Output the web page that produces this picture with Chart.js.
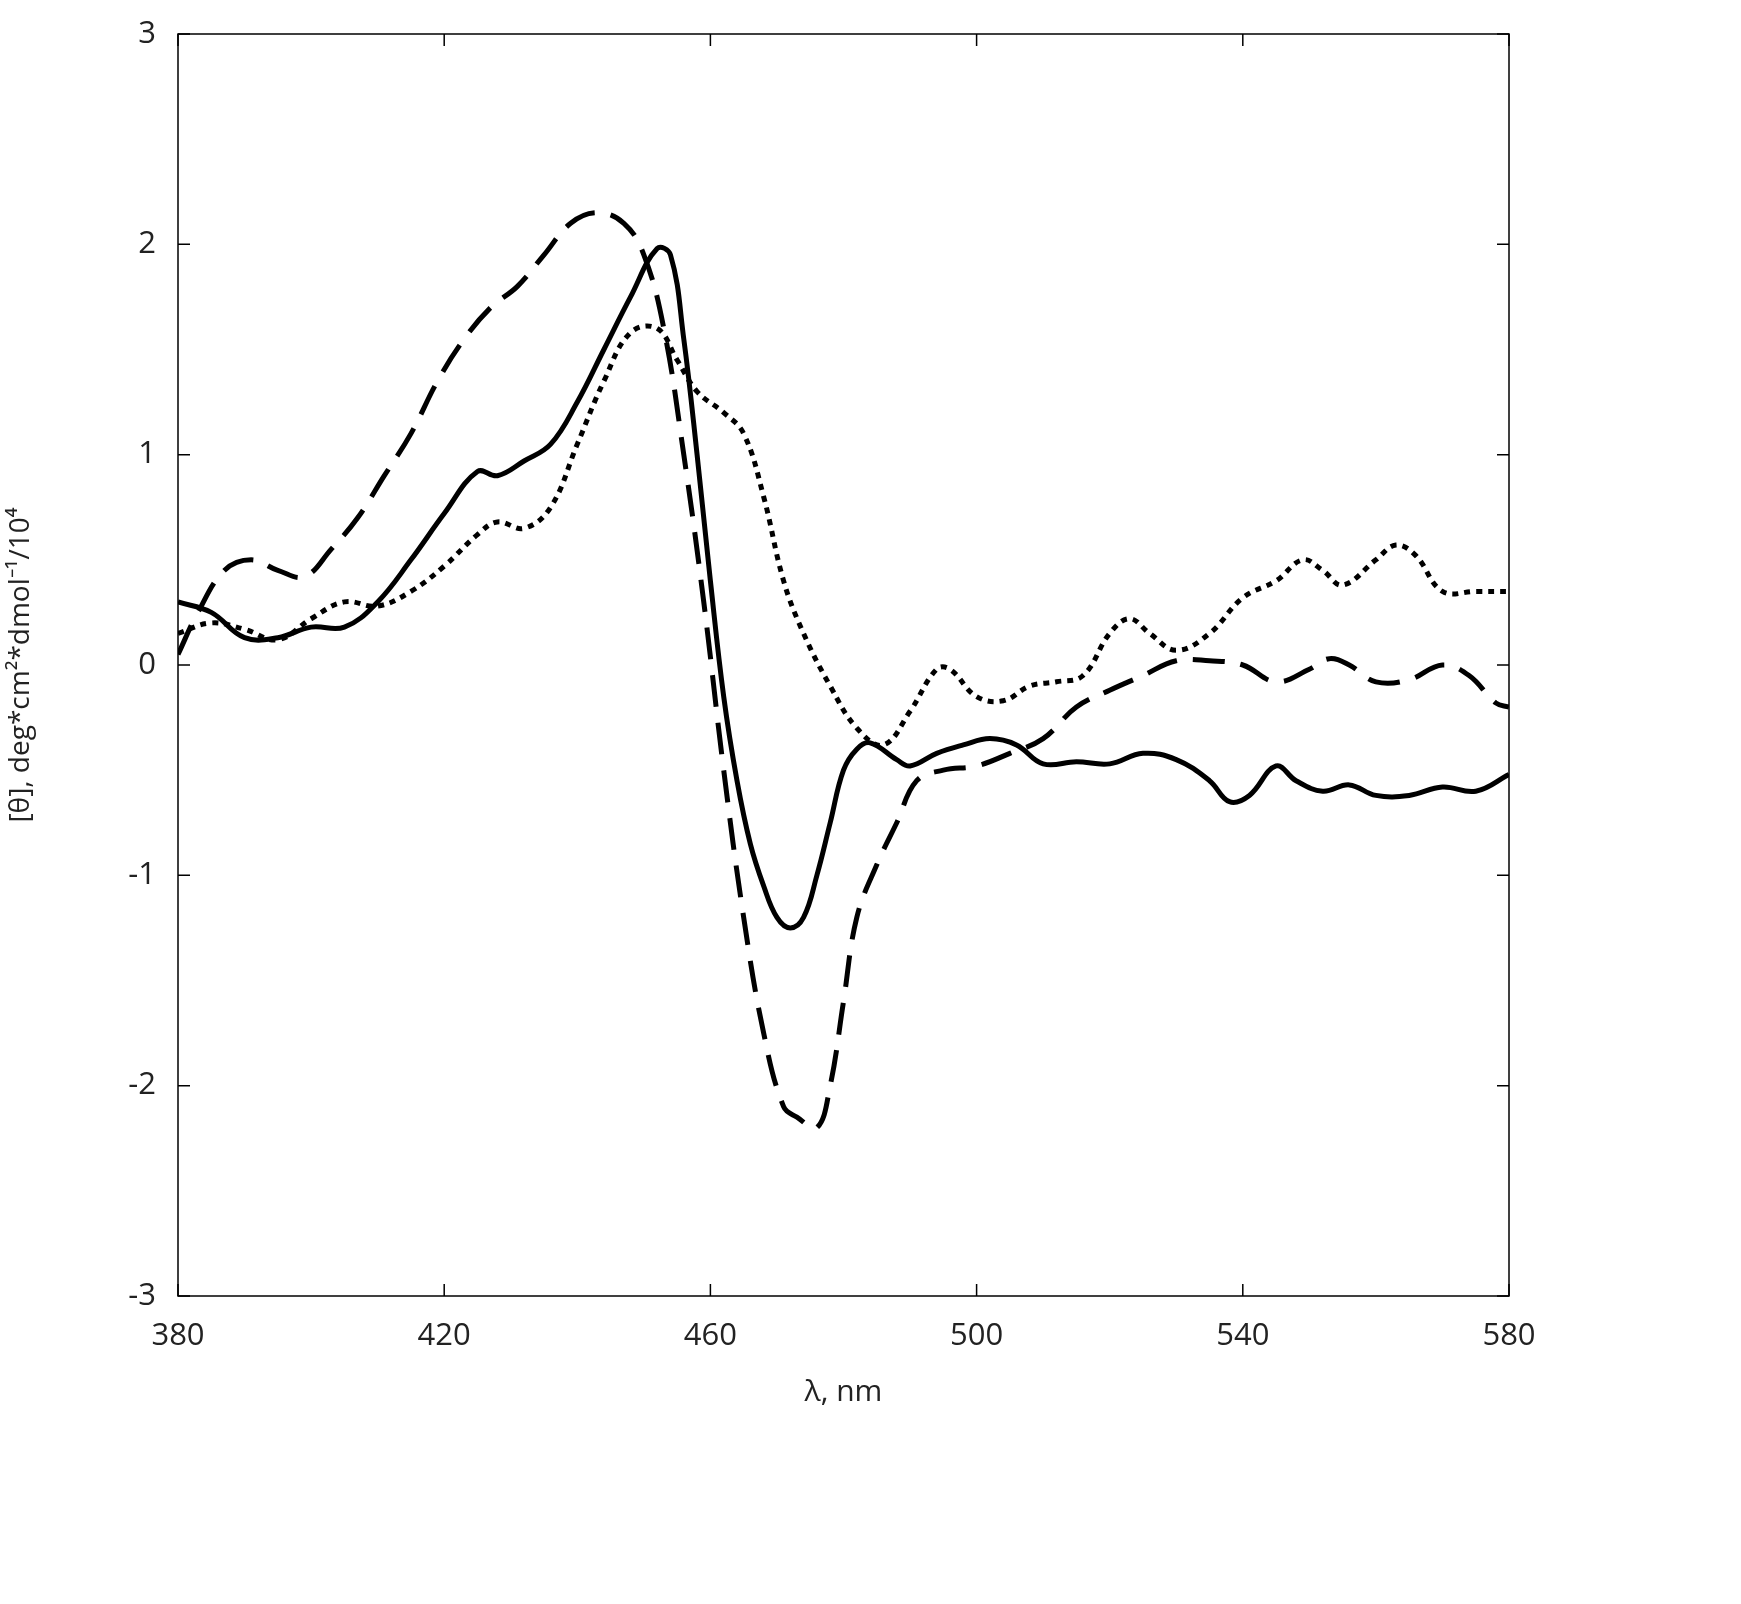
<!DOCTYPE html>
<html>
<head>
<meta charset="utf-8">
<script src="https://cdn.jsdelivr.net/npm/chart.js@4.4.0/dist/chart.umd.min.js"></script>
<style>
  html, body { margin: 0; background: #fff; }
  #wrap { width: 1741px; height: 1604px; }
</style>
</head>
<body>
<div id="wrap"><canvas id="cdChart"></canvas></div>
<script>
// Wavelengths (nm) and ellipticity values for each curve
const solidX = [380,385,390,395,400,405,410,415,420,425,428,432,436,440,444,448,452,454,456,458,460,462,464,466,468,470,472,474,476,478,480,482,484,488,490,494,498,502,506,510,515,520,525,530,535,538,541,545,548,552,556,560,565,570,575,580];
const solidY = [0.30,0.25,0.13,0.13,0.18,0.18,0.30,0.50,0.72,0.92,0.90,0.97,1.05,1.25,1.50,1.75,1.98,1.95,1.55,1.00,0.40,-0.15,-0.55,-0.85,-1.05,-1.20,-1.25,-1.20,-1.00,-0.75,-0.50,-0.40,-0.37,-0.45,-0.48,-0.42,-0.38,-0.35,-0.38,-0.47,-0.46,-0.47,-0.42,-0.45,-0.55,-0.65,-0.62,-0.48,-0.55,-0.60,-0.57,-0.62,-0.62,-0.58,-0.60,-0.52];

const dashX = [380,383,387,391,395,399,403,407,411,415,419,423,427,431,435,439,443,447,450,453,456,459,462,465,468,471,473,476,478,480,482,485,488,491,495,500,505,510,515,520,525,530,535,540,545,550,553,556,560,565,570,574,578,580];
const dashY = [0.05,0.25,0.45,0.50,0.45,0.42,0.55,0.70,0.90,1.10,1.35,1.55,1.70,1.80,1.95,2.10,2.15,2.10,1.95,1.60,1.00,0.30,-0.50,-1.20,-1.75,-2.10,-2.15,-2.20,-2.00,-1.60,-1.20,-0.95,-0.75,-0.55,-0.50,-0.48,-0.42,-0.35,-0.20,-0.12,-0.05,0.02,0.02,0.00,-0.08,-0.02,0.03,0.00,-0.08,-0.07,0.00,-0.05,-0.18,-0.20];

const dotX = [380,385,390,395,400,405,410,415,420,425,428,432,436,440,444,448,452,455,458,462,465,468,471,474,478,482,486,490,494,496,500,504,508,512,516,520,523,526,530,535,540,545,549,552,555,560,563,566,570,575,580];
const dotY = [0.15,0.20,0.17,0.12,0.22,0.30,0.28,0.35,0.47,0.62,0.68,0.65,0.75,1.05,1.35,1.58,1.60,1.45,1.30,1.20,1.10,0.80,0.40,0.15,-0.10,-0.30,-0.38,-0.22,-0.02,-0.02,-0.15,-0.17,-0.10,-0.08,-0.05,0.15,0.22,0.15,0.07,0.15,0.32,0.40,0.50,0.45,0.38,0.50,0.57,0.52,0.35,0.35,0.35];

const xTicks = [380,420,460,500,540,580];
const yTicks = [-3,-2,-1,0,1,2,3];

function pts(xs, ys) { return xs.map((x, i) => ({ x: x, y: ys[i] })); }

// draws the frame and inward tick marks on all four sides
const frameTicks = {
  id: 'frameTicks',
  afterDraw(chart) {
    const { ctx, chartArea: a, scales } = chart;
    ctx.save();
    ctx.strokeStyle = '#000';
    ctx.lineWidth = 1.5;
    ctx.strokeRect(a.left, a.top, a.right - a.left, a.bottom - a.top);
    const L = 12;
    ctx.beginPath();
    xTicks.forEach(v => {
      const p = scales.x.getPixelForValue(v);
      ctx.moveTo(p, a.bottom); ctx.lineTo(p, a.bottom - L);
      ctx.moveTo(p, a.top); ctx.lineTo(p, a.top + L);
    });
    yTicks.forEach(v => {
      const p = scales.y.getPixelForValue(v);
      ctx.moveTo(a.left, p); ctx.lineTo(a.left + L, p);
      ctx.moveTo(a.right, p); ctx.lineTo(a.right - L, p);
    });
    ctx.stroke();
    ctx.restore();
  }
};

const base = { borderColor: '#000', borderWidth: 5, pointRadius: 0, tension: 0.4, fill: false };

new Chart(document.getElementById('cdChart').getContext('2d'), {
  type: 'line',
  data: {
    datasets: [
      Object.assign({ label: 'solid', data: pts(solidX, solidY) }, base),
      Object.assign({ label: 'dashed', data: pts(dashX, dashY), borderDash: [32, 16] }, base),
      Object.assign({ label: 'dotted', data: pts(dotX, dotY), borderDash: [6, 6] }, base)
    ]
  },
  options: {
    responsive: true,
    maintainAspectRatio: false,
    animation: false,
    layout: { padding: { top: 34, right: 232, bottom: 190, left: 0 } },
    plugins: { legend: { display: false }, tooltip: { enabled: false } },
    scales: {
      x: {
        type: 'linear', min: 380, max: 580,
        afterBuildTicks: s => { s.ticks = xTicks.map(v => ({ value: v })); },
        afterFit: s => { s.height = 118; },
        grid: { display: false },
        border: { display: false },
        ticks: { color: '#222', font: { family: 'Open Sans', size: 31 }, padding: 14 },
        title: { display: true, text: 'λ, nm', color: '#222', font: { family: 'Open Sans', size: 30 } }
      },
      y: {
        min: -3, max: 3,
        afterBuildTicks: s => { s.ticks = yTicks.map(v => ({ value: v })); },
        afterFit: s => { s.width = 178; },
        grid: { display: false },
        border: { display: false },
        ticks: { color: '#222', font: { family: 'Open Sans', size: 31 }, padding: 14 },
        title: { display: true, text: '[θ], deg*cm²*dmol⁻¹/10⁴', color: '#222', font: { family: 'Open Sans', size: 28 }, padding: { bottom: 40 } }
      }
    }
  },
  plugins: [frameTicks]
});
</script>
</body>
</html>
